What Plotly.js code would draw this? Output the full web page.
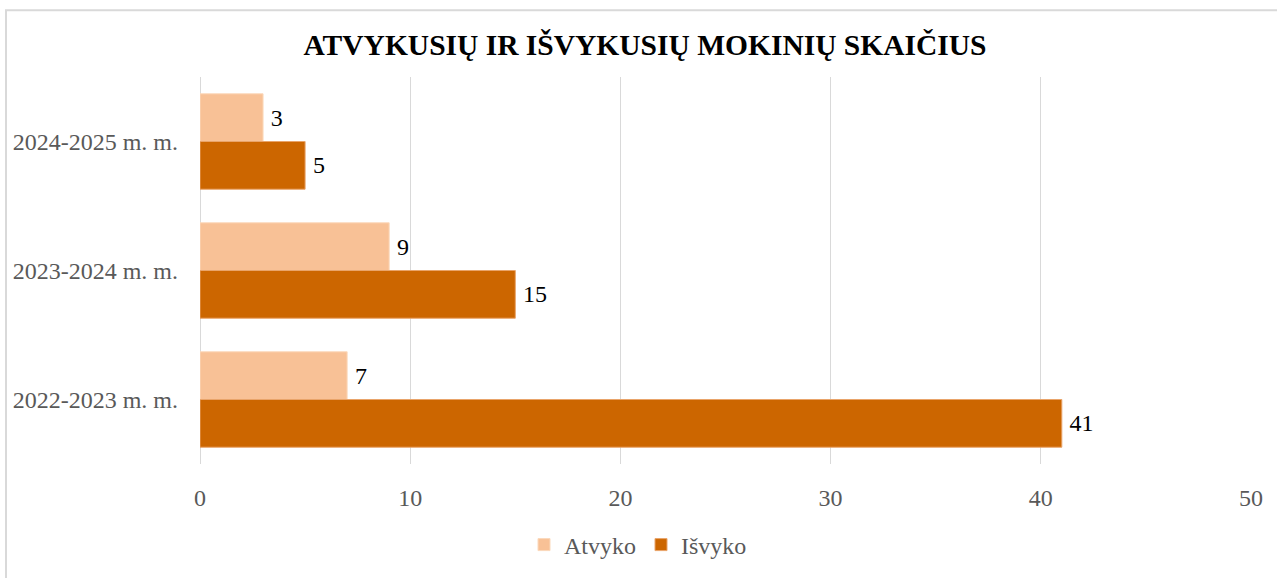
<!DOCTYPE html>
<html>
<head>
<meta charset="utf-8">
<script src="https://cdn.plot.ly/plotly-3.0.1.min.js"></script>
<style>
  html, body { margin: 0; padding: 0; background: #ffffff; }
  #chart { width: 1277px; height: 578px; }
</style>
</head>
<body>
<div id="chart"></div>
<script>
const categories = ['2024-2025 m. m.', '2023-2024 m. m.', '2022-2023 m. m.'];
const atvyko = [3, 9, 7];
const isvyko = [5, 15, 41];
const seriesNames = ['Atvyko', 'Išvyko'];
const xTicks = [0, 10, 20, 30, 40, 50];

const serif = 'Liberation Serif, Times New Roman, serif';

const traces = [
  {
    type: 'bar', orientation: 'h', name: seriesNames[0],
    y: categories, x: atvyko,
    text: atvyko.map(v => '\u2009' + v), textposition: 'outside',
    textfont: { family: serif, size: 24, color: '#000000' },
    marker: { color: '#F8C196', line: { color: '#FBD9BC', width: 1 } },
    cliponaxis: false, hoverinfo: 'skip'
  },
  {
    type: 'bar', orientation: 'h', name: seriesNames[1],
    y: categories, x: isvyko,
    text: isvyko.map(v => '\u2009' + v), textposition: 'outside',
    textfont: { family: serif, size: 24, color: '#000000' },
    marker: { color: '#CC6600', line: { color: '#E9A46A', width: 1 } },
    cliponaxis: false, hoverinfo: 'skip'
  }
];

const L = 200, R = 26, T = 77, B = 113;
const W = 1277, H = 578;
const pw = W - L - R, ph = H - T - B;
const px = v => (v - L) / pw;
const py = v => (H - B - v) / ph;

const layout = {
  width: W, height: H,
  margin: { l: L, r: R, t: T, b: B, pad: 0 },
  paper_bgcolor: '#ffffff', plot_bgcolor: '#ffffff',
  font: { family: serif, size: 24, color: '#595959' },
  title: {
    text: '<b>ATVYKUSIŲ IR IŠVYKUSIŲ MOKINIŲ SKAIČIUS</b>',
    font: { family: serif, size: 29.5, color: '#000000' },
    xref: 'container', x: 645 / W, xanchor: 'center',
    yref: 'container', y: 1 - 45 / H, yanchor: 'middle'
  },
  barmode: 'group',
  bargap: 0.26, bargroupgap: 0,
  xaxis: {
    range: [0, 50], tickvals: xTicks, ticktext: xTicks.map(String),
    showgrid: true, gridcolor: '#d9d9d9', gridwidth: 1,
    zeroline: true, zerolinecolor: '#d9d9d9', zerolinewidth: 1,
    showline: false, ticks: '', ticklabelstandoff: 17,
    tickfont: { family: serif, size: 24, color: '#595959' },
    fixedrange: true
  },
  yaxis: {
    type: 'category', categoryorder: 'array', categoryarray: categories,
    autorange: 'reversed',
    showgrid: false, zeroline: false, showline: false, ticks: '',
    ticklabelstandoff: 21,
    tickfont: { family: serif, size: 24, color: '#595959' },
    fixedrange: true
  },
  legend: {
    orientation: 'h', x: px(638), xanchor: 'center', y: py(545), yanchor: 'middle',
    font: { family: serif, size: 24, color: '#595959' },
    itemwidth: 30, traceorder: 'normal'
  },
  showlegend: true,
  shapes: [
    { type: 'line', xref: 'paper', yref: 'paper', x0: px(6), x1: px(6), y0: py(10), y1: py(H + 5), line: { color: '#d9d9d9', width: 2 } },
    { type: 'line', xref: 'paper', yref: 'paper', x0: px(5), x1: px(W + 5), y0: py(10), y1: py(10), line: { color: '#d9d9d9', width: 2 } }
  ]
};

Plotly.newPlot('chart', traces, layout, { displayModeBar: false, staticPlot: true });
</script>
</body>
</html>
